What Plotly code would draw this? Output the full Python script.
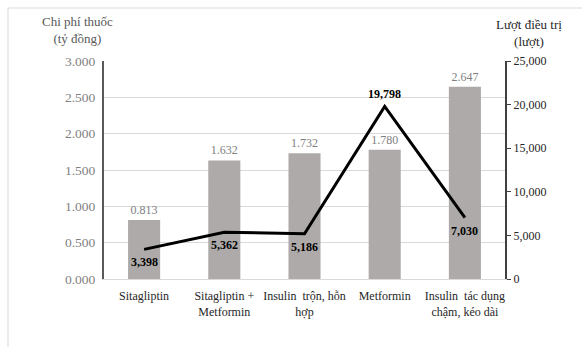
import plotly.graph_objects as go

categories = ["Sitagliptin", "Sitagliptin +<br>Metformin", "Insulin  trộn, hỗn<br>hợp",
              "Metformin", "Insulin  tác dụng<br>chậm, kéo dài"]
cost = [0.813, 1.632, 1.732, 1.780, 2.647]
visits = [3398, 5362, 5186, 19798, 7030]
visit_label_above = [False, False, False, True, False]
left_ticks = [0, 0.5, 1.0, 1.5, 2.0, 2.5, 3.0]
right_ticks = [0, 5000, 10000, 15000, 20000, 25000]

FONT = "Liberation Serif, Times New Roman, serif"

fig = go.Figure()
fig.add_trace(go.Bar(
    x=categories, y=cost, marker=dict(color="#aeaaaa", line=dict(width=0)),
    width=0.4, text=[f"{v:.3f}" for v in cost], textposition="outside",
    textfont=dict(family=FONT, size=12, color="#808080"), cliponaxis=False,
    yaxis="y", showlegend=False))
fig.add_trace(go.Scatter(
    x=categories, y=visits, mode="lines", line=dict(color="black", width=3),
    cliponaxis=False, yaxis="y2", showlegend=False))

annotations = [
    dict(text="Chi phí thuốc<br>(tỷ đồng)", xref="paper", yref="paper",
         x=(77 - 104) / 401, y=(279 - 30) / 218, xanchor="center", yanchor="middle",
         showarrow=False, font=dict(family=FONT, size=13, color="#595959")),
    dict(text="Lượt điều trị<br>(lượt)", xref="paper", yref="paper",
         x=(529 - 104) / 401, y=(279 - 33) / 218, xanchor="center", yanchor="middle",
         showarrow=False, font=dict(family=FONT, size=13, color="#262626")),
]
for c, v, above in zip(categories, visits, visit_label_above):
    annotations.append(dict(
        text=f"<b>{v:,}</b>", x=c, y=v, xref="x", yref="y2", showarrow=False,
        xanchor="center", yanchor="middle", yshift=12 if above else -13,
        font=dict(family=FONT, size=12, color="black")))

fig.update_layout(
    width=582, height=347,
    margin=dict(l=104, r=77, t=61, b=68),
    paper_bgcolor="white", plot_bgcolor="white",
    font=dict(family=FONT, size=12, color="#333333"),
    bargap=0.6,
    xaxis=dict(showgrid=False, tickfont=dict(family=FONT, size=12, color="#262626"),
               showline=True, linecolor="#d9d9d9", linewidth=1, ticks="",
               ticklabelstandoff=6),
    yaxis=dict(range=[0, 3.0], tickvals=left_ticks, tickformat=".3f",
               showgrid=True, gridcolor="#d9d9d9", gridwidth=1,
               showline=True, linecolor="#595959", linewidth=2, ticks="",
               ticklabelstandoff=4,
               tickfont=dict(family=FONT, size=13.5, color="#7f7f7f"), zeroline=False),
    yaxis2=dict(range=[0, 25000], tickvals=right_ticks, tickformat=",",
                overlaying="y", side="right", showgrid=False,
                showline=True, linecolor="#404040", linewidth=2, ticks="outside",
                ticklen=4, tickcolor="#404040",
                tickfont=dict(family=FONT, size=12, color="#262626"), zeroline=False),
    annotations=annotations,
    shapes=[dict(type="rect", xref="paper", yref="paper",
                 x0=(8 - 104) / 401, x1=(600 - 104) / 401,
                 y0=(279 - 360) / 218, y1=(279 - 8) / 218,
                 line=dict(color="#d9d9d9", width=1), layer="below")],
)

fig.write_html("out.html")
